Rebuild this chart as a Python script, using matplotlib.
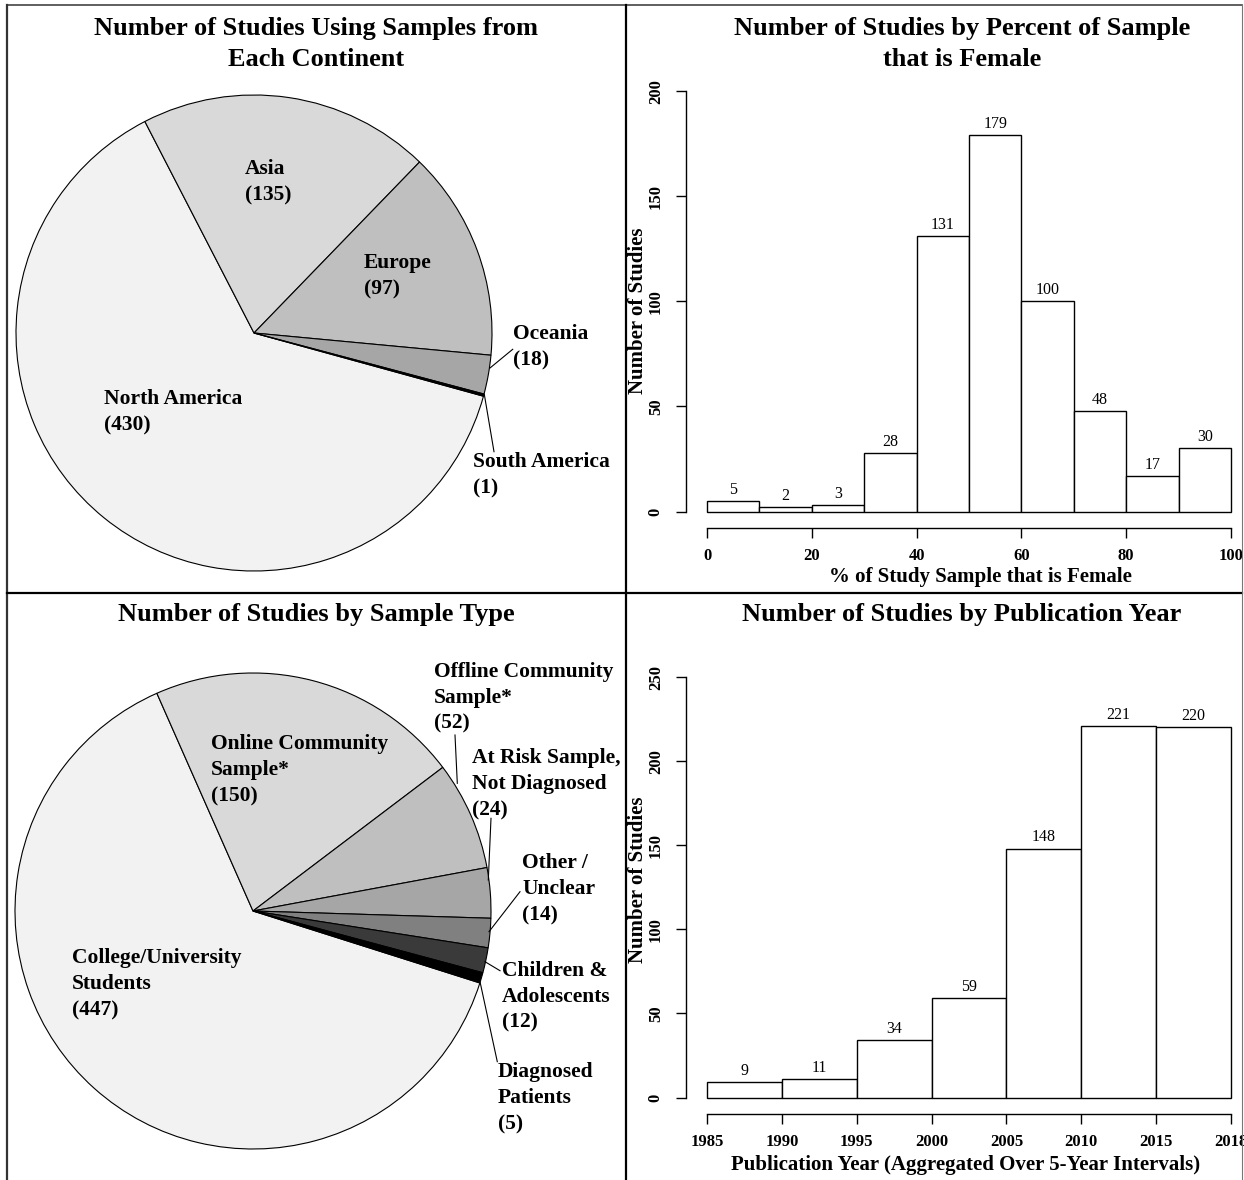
import matplotlib
matplotlib.use("Agg")
import matplotlib.pyplot as plt
from matplotlib.lines import Line2D

plt.rcParams["font.family"] = ["Liberation Serif", "DejaVu Serif"]

W, H = 1244, 1180   # canvas size in pixels (dpi 100)

# --- data -----------------------------------------------------------------
continents = ["North America", "Asia", "Europe", "Oceania", "South America"]
continent_counts = [430, 135, 97, 18, 1]
continent_colors = ["#f2f2f2", "#d9d9d9", "#bfbfbf", "#a6a6a6", "#000000"]

sample_types = ["College/University\nStudents", "Online Community\nSample*",
                "Offline Community\nSample*", "At Risk Sample,\nNot Diagnosed",
                "Other /\nUnclear", "Children &\nAdolescents", "Diagnosed\nPatients"]
sample_counts = [447, 150, 52, 24, 14, 12, 5]
sample_colors = ["#f2f2f2", "#d9d9d9", "#bfbfbf", "#a6a6a6", "#808080", "#3a3a3a", "#000000"]

female_edges = [0, 10, 20, 30, 40, 50, 60, 70, 80, 90, 100]
female_counts = [5, 2, 3, 28, 131, 179, 100, 48, 17, 30]

year_labels = ["1985", "1990", "1995", "2000", "2005", "2010", "2015", "2018"]
year_counts = [9, 11, 34, 59, 148, 221, 220]

# --- layout (pixels, y measured from the top) -----------------------------
# label block: (left x, centre y); leader: ((x on rim, y on rim), (x, y) near label)
continent_layout = {
    "North America": ((104, 412), None),
    "Asia": ((245, 182), None),
    "Europe": ((364, 276), None),
    "Oceania": ((513, 347), ((490, 368), (512.7, 349.3))),
    "South America": ((473, 475), ((484.3, 394.3), (494, 451.7))),
}
sample_layout = [
    ((72, 984), None),
    ((211, 770.5), None),
    ((434, 697.5), ((457.3, 783.3), (455, 735))),
    ((472, 784), ((488.3, 880), (491, 818.3))),
    ((522, 889), ((489, 931.7), (520, 891.7))),
    ((502, 996.7), ((485, 961.7), (500, 970.7))),
    ((498, 1098), ((480, 981.7), (497.3, 1061.7))),
]


def fig_rect(x0, y0, x1, y1):
    return [x0 / W, 1 - y1 / H, (x1 - x0) / W, (y1 - y0) / H]


def fig_xy(x, y):
    return x / W, 1 - y / H


def pie_panel(fig, box, center, radius, counts, colors, start):
    x0, y0, x1, y1 = box
    cx, cy = center
    ax = fig.add_axes(fig_rect(x0, y0, x1, y1))
    ax.pie(counts, colors=colors, startangle=start, counterclock=False, radius=1,
           wedgeprops=dict(edgecolor="black", linewidth=0.8), frame=True)
    ax.set_xlim((x0 - cx) / radius, (x1 - cx) / radius)
    ax.set_ylim((cy - y1) / radius, (cy - y0) / radius)
    ax.set_aspect("auto")
    ax.axis("off")

    def to_data(px, py):
        return (px - cx) / radius, (cy - py) / radius
    return ax, to_data


def label_pie(ax, to_data, texts, counts, layout):
    for text, n, (pos, leader) in zip(texts, counts, layout):
        x, y = to_data(*pos)
        ax.text(x, y, f"{text}\n({n})", ha="left", va="center", fontsize=15.5,
                fontweight="bold", linespacing=1.4)
        if leader is not None:
            (ax0, ay0), (ax1, ay1) = leader
            p0, p1 = to_data(ax0, ay0), to_data(ax1, ay1)
            ax.plot([p0[0], p1[0]], [p0[1], p1[1]], color="black", linewidth=0.8)


def r_axes(fig, px_x0, px_x1, px_y0, px_y1, xlim, ylim):
    """Axes whose data range maps onto the given pixels, padded 4% like R."""
    dx = (xlim[1] - xlim[0]) * 0.04
    dy = (ylim[1] - ylim[0]) * 0.04
    sx = (px_x1 - px_x0) / (xlim[1] - xlim[0])
    sy = (px_y0 - px_y1) / (ylim[1] - ylim[0])
    ax = fig.add_axes(fig_rect(px_x0 - dx * sx, px_y1 - dy * sy,
                               px_x1 + dx * sx, px_y0 + dy * sy))
    ax.set_xlim(xlim[0] - dx, xlim[1] + dx)
    ax.set_ylim(ylim[0] - dy, ylim[1] + dy)
    for side in ("top", "right"):
        ax.spines[side].set_visible(False)
    ax.spines["left"].set_bounds(*ylim)
    ax.spines["bottom"].set_bounds(*xlim)
    ax.spines["left"].set_linewidth(1.0)
    ax.spines["bottom"].set_linewidth(1.0)
    ax.tick_params(direction="out", length=7, width=1.0, labelsize=12)
    ax.tick_params(axis="x", pad=7)
    ax.tick_params(axis="y", pad=9)
    ax.patch.set_alpha(0)
    return ax


def bar_labels(ax, xs, counts):
    for x, n in zip(xs, counts):
        ax.annotate(str(n), (x, n), xytext=(0, 8), textcoords="offset points",
                    ha="center", va="center", fontsize=11.5)


fig = plt.figure(figsize=(W / 100, H / 100), dpi=100)

# panel frame
frame_lines = [
    ((7, 5), (1242, 5), 1.2, "#444444"),
    ((7.3, 5), (7.3, 1180), 1.6, "#333333"),
    ((625.7, 5), (625.7, 1180), 1.6, "black"),
    ((7, 593.3), (1242, 593.3), 1.6, "black"),
    ((1241.7, 5), (1241.7, 1180), 0.8, "#777777"),
]
for (xa, ya), (xb, yb), lw, col in frame_lines:
    (fxa, fya), (fxb, fyb) = fig_xy(xa, ya), fig_xy(xb, yb)
    fig.add_artist(Line2D([fxa, fxb], [fya, fyb], color=col, linewidth=lw))

# top-left: continents
ax1, conv1 = pie_panel(fig, (9, 80, 624, 592), (254, 333), 238,
                       continent_counts, continent_colors, -15.4)
label_pie(ax1, conv1, continents, continent_counts,
          [continent_layout[c] for c in continents])
fig.text(*fig_xy(316, 44), "Number of Studies Using Samples from\nEach Continent",
         ha="center", va="center", fontsize=19, fontweight="bold", linespacing=1.4)

# bottom-left: sample types
ax3, conv3 = pie_panel(fig, (9, 640, 624, 1180), (253, 911), 238,
                       sample_counts, sample_colors, -17.6)
label_pie(ax3, conv3, sample_types, sample_counts, sample_layout)
fig.text(*fig_xy(316, 614), "Number of Studies by Sample Type",
         ha="center", va="center", fontsize=19, fontweight="bold")

# top-right: percent female histogram
ax2 = r_axes(fig, 707, 1231, 511.5, 91.3, (0, 100), (0, 200))
ax2.bar(female_edges[:-1], female_counts, width=10, align="edge",
        facecolor="white", edgecolor="black", linewidth=1.0)
bar_labels(ax2, [e + 5 for e in female_edges[:-1]], female_counts)
ax2.set_xticks(range(0, 101, 20))
ax2.set_yticks(range(0, 201, 50))
plt.setp(ax2.get_xticklabels(), fontweight="bold")
plt.setp(ax2.get_yticklabels(), fontweight="bold", rotation=90, va="center")
fig.text(*fig_xy(962, 44), "Number of Studies by Percent of Sample\nthat is Female",
         ha="center", va="center", fontsize=19, fontweight="bold", linespacing=1.4)
fig.text(*fig_xy(980, 577), "% of Study Sample that is Female",
         ha="center", va="center", fontsize=15, fontweight="bold")
fig.text(*fig_xy(638, 311), "Number of Studies", rotation=90,
         ha="center", va="center", fontsize=15, fontweight="bold")

# bottom-right: publication year histogram
ax4 = r_axes(fig, 707, 1231, 1097.5, 677, (0, 7), (0, 250))
ax4.bar(range(len(year_counts)), year_counts, width=1, align="edge",
        facecolor="white", edgecolor="black", linewidth=1.0)
bar_labels(ax4, [i + 0.5 for i in range(len(year_counts))], year_counts)
ax4.set_xticks(range(len(year_labels)))
ax4.set_xticklabels(year_labels)
ax4.set_yticks(range(0, 251, 50))
plt.setp(ax4.get_xticklabels(), fontweight="bold")
plt.setp(ax4.get_yticklabels(), fontweight="bold", rotation=90, va="center")
fig.text(*fig_xy(962, 614), "Number of Studies by Publication Year",
         ha="center", va="center", fontsize=19, fontweight="bold")
fig.text(*fig_xy(966, 1165), "Publication Year (Aggregated Over 5-Year Intervals)",
         ha="center", va="center", fontsize=15, fontweight="bold")
fig.text(*fig_xy(638, 880), "Number of Studies", rotation=90,
         ha="center", va="center", fontsize=15, fontweight="bold")

fig.savefig("out.png", dpi=100)
